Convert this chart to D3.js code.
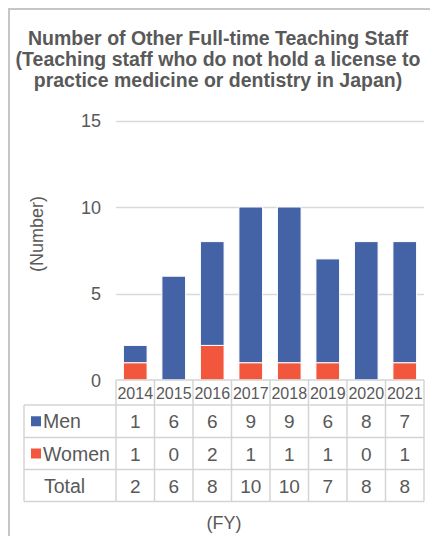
<!DOCTYPE html>
<html><head><meta charset="utf-8">
<script src="https://cdn.jsdelivr.net/npm/d3@7"></script>
<style>html,body{margin:0;padding:0;background:#fff;}svg{display:block;}</style>
</head><body>
<svg id="c" width="430" height="536"></svg>
<script>
const years = ["2014","2015","2016","2017","2018","2019","2020","2021"];
const men = [1,6,6,9,9,6,8,7];
const women = [1,0,2,1,1,1,0,1];
const yTicks = [0,5,10,15];
const titleLines = ["Number of Other Full-time Teaching Staff","(Teaching staff who do not hold a license to","practice medicine or dentistry in Japan)"];

const svg = d3.select("#c");
const txt = "#595959", grid = "#d9d9d9", tblLine = "#d4d4d4";
const cMen = "#4463a7", cWomen = "#f2573e";
const font = "Liberation Sans, Arial, sans-serif";

// frame
svg.append("path").attr("d","M9,536 V9 H430").attr("fill","none").attr("stroke","#c6c6c6").attr("stroke-width",2);

// title
svg.append("g").selectAll("text").data(titleLines).join("text")
  .attr("x",218).attr("y",(d,i)=>44.5+i*21).attr("text-anchor","middle")
  .attr("font-family",font).attr("font-weight","bold").attr("font-size",19.5).attr("fill",txt).text(d=>d);

const x = d3.scaleBand().domain(years).range([116,424]).paddingInner(0.385).paddingOuter(0.1925);
const band = d3.scaleBand().domain(years).range([116,424]);
const y = d3.scaleLinear().domain([0,15]).range([380,120.5]);

// gridlines
svg.append("g").selectAll("line").data(yTicks.filter(d=>d>0)).join("line")
  .attr("x1",116).attr("x2",424).attr("y1",d=>Math.round(y(d))+0.5).attr("y2",d=>Math.round(y(d))+0.5)
  .attr("stroke",grid).attr("stroke-width",1.5);

// y axis labels
const yAxis = d3.axisLeft(y).tickValues(yTicks).tickSize(0).tickPadding(0);
const ya = svg.append("g").attr("transform","translate(101,0)").call(yAxis);
ya.select(".domain").remove();
ya.selectAll("text").attr("font-family",font).attr("font-size",18).attr("fill",txt).attr("dy","0.35em");

svg.append("text").attr("transform","translate(43,234) rotate(-90)").attr("text-anchor","middle")
  .attr("font-family",font).attr("font-size",18).attr("fill",txt).text("(Number)");

// stacked bars
const rows = years.map((yr,i)=>({year:yr, Women:women[i], Men:men[i]}));
const stack = d3.stack().keys(["Women","Men"])(rows);
const colors = {Women:cWomen, Men:cMen};
svg.append("g").selectAll("g").data(stack).join("g").attr("fill",d=>colors[d.key])
  .selectAll("rect").data(d=>d.filter(p=>p[1]-p[0]>0)).join("rect")
  .attr("x",d=>x(d.data.year)).attr("width",x.bandwidth())
  .attr("y",d=>y(d[1])).attr("height",d=>y(d[0])-y(d[1]))
  .attr("stroke","#fff").attr("stroke-width",1);

// table
const tg = svg.append("g");
const rTop = [380,405,437.5,469.5,501.5];
const lineAttr = s=>s.attr("stroke",tblLine).attr("stroke-width",1.5);
lineAttr(tg.append("line").attr("x1",116).attr("x2",424).attr("y1",380).attr("y2",380));
rTop.slice(1).forEach(yy=>lineAttr(tg.append("line").attr("x1",24).attr("x2",424).attr("y1",yy).attr("y2",yy)));
lineAttr(tg.append("line").attr("x1",24).attr("x2",24).attr("y1",405).attr("y2",501.5));
years.forEach(yr=>lineAttr(tg.append("line").attr("x1",band(yr)).attr("x2",band(yr)).attr("y1",380).attr("y2",501.5)));
lineAttr(tg.append("line").attr("x1",424).attr("x2",424).attr("y1",380).attr("y2",501.5));

// x axis (year labels)
const xAxis = d3.axisBottom(band).tickSize(0).tickPadding(0);
const xa = svg.append("g").attr("transform","translate(0,398.5)").call(xAxis);
xa.select(".domain").remove();
xa.selectAll("text").attr("dy",0).attr("font-family",font).attr("font-size",16).attr("fill",txt);

const tableRows = [
  {label:"Men", vals:men, color:cMen},
  {label:"Women", vals:women, color:cWomen},
  {label:"Total", vals:men.map((m,i)=>m+women[i]), color:null}
];
tableRows.forEach((r,ri)=>{
  const cy = (rTop[ri+1]+rTop[ri+2])/2;
  if(r.color) tg.append("rect").attr("x",31).attr("y",cy-5).attr("width",10).attr("height",10).attr("fill",r.color);
  tg.append("text").attr("x",r.color?43:44).attr("y",cy+7).attr("font-family",font).attr("font-size",19.5).attr("fill",txt).text(r.label);
  tg.selectAll(null).data(r.vals).join("text")
    .attr("x",(d,i)=>band(years[i])+band.bandwidth()/2).attr("y",cy+7).attr("text-anchor","middle")
    .attr("font-family",font).attr("font-size",19).attr("fill",txt).text(d=>d);
});

svg.append("text").attr("x",224).attr("y",529).attr("text-anchor","middle")
  .attr("font-family",font).attr("font-size",18).attr("fill",txt).text("(FY)");
</script>
</body></html>
